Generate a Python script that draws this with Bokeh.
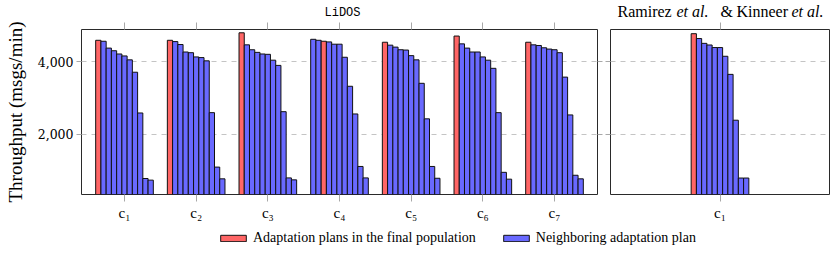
from bokeh.plotting import figure
from bokeh.models import (ColumnDataSource, FixedTicker, NumeralTickFormatter, LinearAxis,
                          Range1d, Label, Legend, LegendItem)
from bokeh.layouts import column, row
from bokeh.embed import file_html
from bokeh.resources import INLINE

# ---------------- data ----------------
categories = ["c₁", "c₂", "c₃", "c₄", "c₅", "c₆", "c₇"]
c1_values = [4594, 4567, 4378, 4305, 4215, 4161, 4053, 3711, 2585, 774, 729]
c2_values = [4594, 4558, 4477, 4270, 4251, 4134, 4116, 4026, 2594, 1089, 765]
c3_values = [4801, 4468, 4332, 4260, 4215, 4206, 4044, 3900, 2621, 791, 737]
c4_values = [4621, 4594, 4567, 4549, 4486, 4486, 4125, 3323, 2558, 1107, 791]
c5_values = [4540, 4459, 4405, 4333, 4324, 4170, 4053, 3405, 2423, 1107, 781]
c6_values = [4711, 4495, 4378, 4270, 4270, 4134, 4044, 3819, 2594, 945, 756]
c7_values = [4540, 4468, 4450, 4387, 4351, 4333, 4251, 3576, 2531, 864, 765]
lidos_values = [c1_values, c2_values, c3_values, c4_values, c5_values, c6_values, c7_values]
# index of the bar that belongs to the final population (red) in each group
lidos_final_index = [0, 0, 0, 2, 0, 0, 0]

baseline_categories = ["c₁"]
baseline_values = [4776, 4642, 4509, 4464, 4393, 4393, 4152, 3652, 2385, 787, 787]
baseline_final_index = 0

y_ticks = [2000, 4000]
legend_labels = ["Adaptation plans in the final population", "Neighboring adaptation plan"]
left_title = "LiDOS"
right_title_parts = [("Ramirez", "normal"), ("et al.", "italic"), ("&", "normal"),
                     ("Kinneer", "normal"), ("et al.", "italic")]

# ---------------- style ----------------
RED = "#FF6666"
BLUE = "#6969FF"
EDGE = "#111111"
GRID = "#c4c4c4"
TICK = "#a8a8a8"
FRAME = "#2a2a2a"
SERIF = "Liberation Serif"
NUMF = "DejaVu Serif"
BAR_W = 0.0731
Y_RANGE = (332, 4892)
TOTAL_W = 830
TITLE_H = 22
PANEL_H = 7 + 169 + 25
LEGEND_H = 32


def group_source(values_list, final_idx_list):
    xs, tops, colors = [], [], []
    for g, (vals, fi) in enumerate(zip(values_list, final_idx_list)):
        n = len(vals)
        for i, v in enumerate(vals):
            xs.append(g + 1 + (i - (n - 1) / 2) * BAR_W)
            tops.append(v)
            colors.append(RED if i == fi else BLUE)
    return ColumnDataSource(dict(x=xs, top=tops, color=colors))


def tick_only(ax, length):
    """Axis that shows only outward ticks (no labels drawn)."""
    ax.major_label_text_font_size = "0px"
    ax.major_label_text_color = None
    ax.major_label_standoff = 0
    ax.major_tick_out = length
    ax.major_tick_in = 0
    ax.major_tick_line_color = TICK
    ax.minor_tick_line_color = None
    ax.axis_line_color = None
    return ax


def style_panel(p, cats):
    p.background_fill_color = "white"
    p.border_fill_color = "white"
    p.outline_line_color = FRAME
    p.outline_line_width = 1
    p.xgrid.visible = False
    p.ygrid.ticker = FixedTicker(ticks=y_ticks)
    p.ygrid.grid_line_color = GRID
    p.ygrid.grid_line_dash = "5 5"
    p.ygrid.grid_line_width = 1
    xa = p.xaxis[0]
    xa.ticker = FixedTicker(ticks=list(range(1, len(cats) + 1)))
    xa.major_label_overrides = {i + 1: c for i, c in enumerate(cats)}
    xa.major_label_text_font = SERIF
    xa.major_label_text_font_size = "15px"
    xa.major_label_text_color = "black"
    xa.major_label_standoff = 3
    xa.major_tick_out = 7
    xa.major_tick_in = 0
    xa.major_tick_line_color = TICK
    xa.minor_tick_line_color = None
    xa.axis_line_color = None
    top = tick_only(LinearAxis(ticker=FixedTicker(ticks=list(range(1, len(cats) + 1)))), 7)
    p.add_layout(top, "above")


def blank_strip(height):
    s = figure(width=TOTAL_W, height=height, output_backend="svg", toolbar_location=None,
               x_axis_type=None, y_axis_type=None, x_range=Range1d(0, TOTAL_W),
               y_range=Range1d(0, height), min_border=0)
    s.outline_line_color = None
    s.xgrid.visible = False
    s.ygrid.visible = False
    s.background_fill_color = "white"
    s.border_fill_color = "white"
    return s


# ---------------- title strip ----------------
titles = blank_strip(TITLE_H)
titles.add_layout(Label(x=342, y=10, text=left_title, text_font="Liberation Mono",
                        text_font_size="12px", text_align="center", text_baseline="alphabetic",
                        text_color="black"))
title_x = [617, 676, 720, 736, 791]
for (txt, style), xpos in zip(right_title_parts, title_x):
    titles.add_layout(Label(x=xpos, y=11.5, text=txt, text_font=SERIF, text_font_size="16px",
                            text_font_style=style, text_align="left",
                            text_baseline="alphabetic", text_color="black"))

# ---------------- left panel (LiDOS) ----------------
left = figure(width=81 + 516 + 6, height=PANEL_H, output_backend="svg", toolbar_location=None,
              x_range=Range1d(0.4, 7.6), y_range=Range1d(*Y_RANGE),
              min_border_left=81, min_border_right=6, min_border_top=7, min_border_bottom=25)
left.vbar(x="x", top="top", bottom=0, width=BAR_W, fill_color="color", line_color=EDGE,
          line_width=1, source=group_source(lidos_values, lidos_final_index))
style_panel(left, categories)
ya = left.yaxis[0]
ya.ticker = FixedTicker(ticks=y_ticks)
ya.formatter = NumeralTickFormatter(format="0,0")
ya.major_label_text_font = NUMF
ya.major_label_text_font_size = "12.5px"
ya.major_label_text_color = "black"
ya.major_label_standoff = 3
ya.major_tick_out = 5
ya.major_tick_in = 0
ya.major_tick_line_color = TICK
ya.minor_tick_line_color = None
ya.axis_line_color = None
ya.axis_label = "Throughput (msgs/min)"
ya.axis_label_text_font = SERIF
ya.axis_label_text_font_size = "19px"
ya.axis_label_text_font_style = "normal"
ya.axis_label_text_color = "black"
ya.axis_label_standoff = 9
left.add_layout(tick_only(LinearAxis(ticker=FixedTicker(ticks=y_ticks)), 5), "right")

# ---------------- right panel (Ramirez et al. & Kinneer et al.) ----------------
right = figure(width=7 + 219 + 1, height=PANEL_H, output_backend="svg", toolbar_location=None,
               x_range=Range1d(-0.527, 2.527), y_range=Range1d(*Y_RANGE),
               min_border_left=7, min_border_right=1, min_border_top=7, min_border_bottom=25)
right.vbar(x="x", top="top", bottom=0, width=BAR_W, fill_color="color", line_color=EDGE,
           line_width=1, source=group_source([baseline_values], [baseline_final_index]))
style_panel(right, baseline_categories)
yb = right.yaxis[0]
yb.ticker = FixedTicker(ticks=y_ticks)
tick_only(yb, 5)

# ---------------- legend strip ----------------
leg = blank_strip(LEGEND_H)
hidden = ColumnDataSource(dict(x=[-100], top=[-100]))
r_red = leg.vbar(x="x", top="top", bottom=-101, width=1, fill_color=RED, line_color=EDGE,
                 source=hidden)
r_blue = leg.vbar(x="x", top="top", bottom=-101, width=1, fill_color=BLUE, line_color=EDGE,
                  source=hidden)
legend = Legend(items=[LegendItem(label=legend_labels[0], renderers=[r_red]),
                       LegendItem(label=legend_labels[1], renderers=[r_blue])],
                orientation="horizontal", location=(217, 9.5), padding=0, margin=0, spacing=24,
                glyph_width=32, glyph_height=8, label_height=16, label_standoff=4,
                label_text_font=SERIF, label_text_font_size="14px", label_text_color="black",
                border_line_color=None, background_fill_alpha=0)
leg.add_layout(legend, "center")

layout = column(titles, row(left, right), leg)
open("out.html", "w").write(file_html(layout, INLINE))
